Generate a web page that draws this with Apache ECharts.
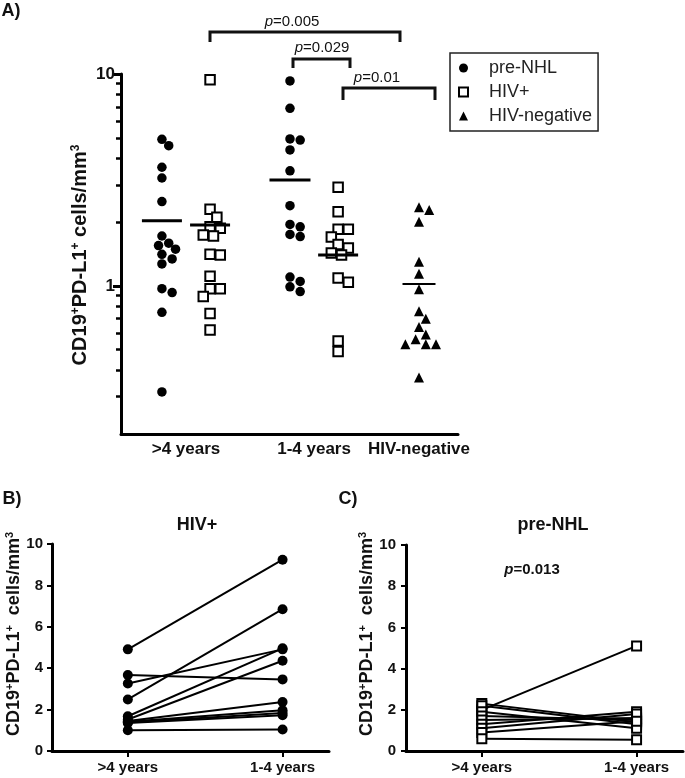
<!DOCTYPE html>
<html><head><meta charset="utf-8">
<script src="https://cdn.jsdelivr.net/npm/echarts@6/dist/echarts.min.js"></script>
<style>html,body{margin:0;padding:0;background:#fff}#c{width:685px;height:778px}</style>
</head><body><div id="c"></div>
<script>
// ---------- Panel A data ----------
const categoriesA = ['>4 years', '1-4 years', 'HIV-negative'];
const seriesNamesA = ['pre-NHL', 'HIV+', 'HIV-negative'];
const preNHL_gt4  = [4.92, 4.59, 3.63, 3.23, 2.50, 1.72, 1.59, 1.55, 1.49, 1.41, 1.34, 1.27, 0.97, 0.93, 0.75, 0.316];
const hivPos_gt4  = [9.4, 2.30, 2.11, 1.90, 1.87, 1.74, 1.72, 1.41, 1.40, 1.11, 0.97, 0.97, 0.89, 0.74, 0.62];
const preNHL_1to4 = [9.27, 6.89, 4.94, 4.88, 4.38, 3.49, 2.39, 1.95, 1.90, 1.75, 1.71, 1.10, 1.05, 0.99, 0.94];
const hivPos_1to4 = [2.92, 2.24, 1.85, 1.85, 1.70, 1.57, 1.51, 1.43, 1.40, 1.09, 1.04, 0.55, 0.49];
const hivNeg      = [2.35, 2.28, 2.01, 1.30, 1.14, 0.965, 0.76, 0.70, 0.64, 0.59, 0.56, 0.53, 0.53, 0.53, 0.37];
const meansA      = [2.03, 1.94, 3.16, 1.40, 1.02];
const yMajorTicksA = [1, 10];
const yMinorTicksA = [0.3, 0.4, 0.5, 0.6, 0.7, 0.8, 0.9, 2, 3, 4, 5, 6, 7, 8, 9];
const pLabelsA = ['0.005', '0.029', '0.01'];

// ---------- Panel B data (HIV+) ----------
const timepoints = ['>4 years', '1-4 years'];
const hivB_gt4  = [4.91, 3.67, 3.26, 2.49, 1.68, 1.52, 1.45, 1.41, 1.38, 1.35, 1.00];
const hivB_1to4 = [9.24, 3.46, 4.91, 6.85, 4.96, 4.36, 2.37, 1.97, 1.84, 1.73, 1.04];

// ---------- Panel C data (pre-NHL) ----------
const preC_gt4  = [2.00, 2.30, 2.20, 1.90, 1.70, 1.50, 1.30, 1.10, 0.90, 0.60];
const preC_1to4 = [5.10, 1.40, 1.30, 1.10, 1.50, 1.60, 1.90, 1.80, 1.45, 0.55];
const pLabelC = '0.013';

// ---------- layout ----------
const FONT = 'Arial, "Liberation Sans", sans-serif';
const groupPos = [0.85, 1.85, 3.51, 4.51, 6.19];          // x position of each column in panel A
const catPos = [1.35, 4.01, 6.19];                         // label positions in panel A
const meanWidth = [40, 40, 41, 40, 33];
const meanThick = [3, 3, 3, 3, 2];
const INK = '#111';
const MARK = '#000';

const chart = echarts.init(document.getElementById('c'));

function yName(x, y, size, sep) {
  return {
    type: 'text', x: x, y: y, rotation: Math.PI / 2,
    style: {
      text: 'CD19{s|+}PD-L1{s|+}' + sep + 'cells/mm{s|3}',
      font: 'bold ' + size + 'px ' + FONT, fill: INK,
      align: 'center', verticalAlign: 'middle',
      rich: { s: { fontSize: Math.round(size * 0.62), fontWeight: 'bold', fontFamily: FONT, fill: INK, verticalAlign: 'top', padding: [0, 0, 8, 0] } }
    }
  };
}
function bracket(x1, x2, yTop, yLeg1, yLeg2) {
  return { type: 'polyline', shape: { points: [[x1, yLeg1], [x1, yTop], [x2, yTop], [x2, yLeg2]] },
    style: { stroke: INK, lineWidth: 3, fill: null } };
}
function pText(x, y, val, bold, size) {
  return { type: 'text', x: x, y: y, style: {
    text: '{i|p}=' + val, font: (bold ? 'bold ' : '') + size + 'px ' + FONT, fill: INK,
    align: 'center', verticalAlign: 'middle',
    rich: { i: { fontStyle: 'italic', fontWeight: bold ? 'bold' : 'normal', fontSize: size, fontFamily: FONT, fill: INK } } } };
}
function plainText(x, y, t, size, bold) {
  return { type: 'text', x: x, y: y, style: { text: t, font: (bold ? 'bold ' : '') + size + 'px ' + FONT, fill: INK, align: 'center', verticalAlign: 'middle' } };
}

const axisLineStyle = { lineStyle: { color: MARK, width: 3 } };
const labA = { color: INK, fontWeight: 'bold', fontSize: 17, fontFamily: FONT };
const labBC = { color: INK, fontWeight: 'bold', fontSize: 15, fontFamily: FONT };

const pairSeries = [];
hivB_gt4.forEach((v, i) => pairSeries.push({
  type: 'line', xAxisIndex: 1, yAxisIndex: 2, data: [[1, v], [2, hivB_1to4[i]]],
  symbol: 'circle', symbolSize: 10, lineStyle: { color: MARK, width: 2 }, itemStyle: { color: MARK, opacity: 1 }, silent: true, z: 3
}));
preC_gt4.forEach((v, i) => pairSeries.push({
  type: 'line', xAxisIndex: 2, yAxisIndex: 3, data: [[1, v], [2, preC_1to4[i]]],
  symbol: 'rect', symbolSize: 9, lineStyle: { color: MARK, width: 2 },
  itemStyle: { color: '#fff', borderColor: MARK, borderWidth: 2, opacity: 1 }, silent: true, z: 3
}));

const option = {
  animation: false,
  backgroundColor: '#fff',
  textStyle: { fontFamily: FONT },
  grid: [
    { left: 121, top: 74, width: 337, height: 360 },
    { left: 52, top: 544, width: 277, height: 207 },
    { left: 406, top: 545, width: 277, height: 206 }
  ],
  xAxis: [
    { type: 'value', gridIndex: 0, min: 0, max: 7, splitLine: { show: false },
      axisLine: axisLineStyle, axisTick: { show: false },
      axisLabel: Object.assign({ customValues: catPos, margin: 7,
        formatter: v => { const i = catPos.indexOf(v); return i >= 0 ? categoriesA[i] : ''; } }, labA) },
    { type: 'value', gridIndex: 1, min: 0.51, max: 2.3, splitLine: { show: false },
      axisLine: axisLineStyle, axisTick: { customValues: [1, 2], length: 6, lineStyle: { color: MARK, width: 2 } },
      axisLabel: Object.assign({ customValues: [1, 2], margin: 9, formatter: v => timepoints[Math.round(v) - 1] }, labBC) },
    { type: 'value', gridIndex: 2, min: 0.51, max: 2.3, splitLine: { show: false },
      axisLine: axisLineStyle, axisTick: { customValues: [1, 2], length: 6, lineStyle: { color: MARK, width: 2 } },
      axisLabel: Object.assign({ customValues: [1, 2], margin: 9, formatter: v => timepoints[Math.round(v) - 1] }, labBC) }
  ],
  yAxis: [
    { type: 'log', gridIndex: 0, position: 'left', logBase: 10, min: 0.2, max: 10, splitLine: { show: false },
      axisLine: axisLineStyle,
      axisTick: { customValues: yMajorTicksA, length: 8, lineStyle: { color: MARK, width: 3 } },
      axisLabel: Object.assign({ customValues: yMajorTicksA, margin: 6, formatter: v => String(v) }, labA) },
    { type: 'log', gridIndex: 0, position: 'left', offset: 0, logBase: 10, min: 0.2, max: 10, splitLine: { show: false },
      axisLine: { show: false },
      axisTick: { customValues: yMinorTicksA, length: 5, lineStyle: { color: MARK, width: 2.5 } },
      axisLabel: { show: false } },
    { type: 'value', gridIndex: 1, min: 0, max: 10, interval: 2, splitLine: { show: false },
      axisLine: Object.assign({ show: true }, axisLineStyle), axisTick: { show: true, length: 5, lineStyle: { color: MARK, width: 2 } },
      axisLabel: Object.assign({ margin: 9 }, labBC) },
    { type: 'value', gridIndex: 2, min: 0, max: 10, interval: 2, splitLine: { show: false },
      axisLine: Object.assign({ show: true }, axisLineStyle), axisTick: { show: true, length: 5, lineStyle: { color: MARK, width: 2 } },
      axisLabel: Object.assign({ margin: 10 }, labBC) }
  ],
  legend: {
    data: seriesNamesA, orient: 'vertical', left: 450, top: 53,
    borderColor: '#222', borderWidth: 1.5, padding: [6, 6, 6, 8],
    itemWidth: 9, itemHeight: 9, itemGap: 6,
    textStyle: { fontSize: 18, color: '#222', fontFamily: FONT, lineHeight: 18, padding: [0, 0, 0, 16] }
  },
  series: [
    { name: seriesNamesA[0], type: 'scatter', xAxisIndex: 0, yAxisIndex: 0, symbol: 'circle', symbolSize: 9.5,
      itemStyle: { color: MARK, opacity: 1 }, data: [], z: 3 },
    { name: seriesNamesA[1], type: 'scatter', xAxisIndex: 0, yAxisIndex: 0, symbol: 'rect', symbolSize: 9.5,
      itemStyle: { color: '#fff', borderColor: MARK, borderWidth: 2, opacity: 1 }, data: [], z: 3 },
    { name: seriesNamesA[2], type: 'scatter', xAxisIndex: 0, yAxisIndex: 0, symbol: 'triangle', symbolSize: 10,
      itemStyle: { color: MARK, opacity: 1 }, data: [], z: 3 },
    { name: 'mean', type: 'scatter', xAxisIndex: 0, yAxisIndex: 0, symbol: 'rect', silent: true, z: 4,
      itemStyle: { color: MARK, opacity: 1 },
      data: meansA.map((m, i) => ({ value: [groupPos[i], m], symbolSize: [meanWidth[i], meanThick[i]] })) }
  ].concat(pairSeries),
  graphic: [
    plainText(11, 11, 'A)', 18, true),
    plainText(12, 499, 'B)', 18, true),
    plainText(348, 499, 'C)', 18, true),
    plainText(197, 525, 'HIV+', 18, true),
    plainText(553, 525, 'pre-NHL', 18, true),
    yName(80, 255, 20, ' '),
    yName(14, 634, 18, '  '),
    yName(367, 634, 18, '  '),
    bracket(210, 400, 32, 42, 42),
    bracket(293, 350, 59, 68, 68),
    bracket(343, 435, 88, 100, 100),
    pText(292, 22, pLabelsA[0], false, 15),
    pText(322, 48, pLabelsA[1], false, 15),
    pText(377, 78, pLabelsA[2], false, 15),
    pText(532, 570, pLabelC, true, 15)
  ]
};
chart.setOption(option);

// beeswarm placement of columns (pixel space, via the chart's own scales)
const finder = { xAxisIndex: 0, yAxisIndex: 0 };
function swarm(vals, cx, d, step) {
  const cpx = chart.convertToPixel(finder, [cx, 1])[0];
  const order = vals.map((v, i) => i).sort((a, b) => vals[b] - vals[a]);
  const placed = [];
  const out = new Array(vals.length);
  order.forEach(i => {
    const py = chart.convertToPixel(finder, [cx, vals[i]])[1];
    for (let k = 0; k < 60; k++) {
      const off = (k === 0 ? 0 : (k % 2 ? 1 : -1) * Math.ceil(k / 2)) * step;
      const px = cpx + off;
      if (placed.every(p => Math.hypot(p[0] - px, p[1] - py) >= d)) {
        placed.push([px, py]);
        out[i] = [chart.convertFromPixel(finder, [px, py])[0], vals[i]];
        break;
      }
    }
  });
  return out;
}
chart.setOption({
  series: [
    { name: seriesNamesA[0], data: swarm(preNHL_gt4, groupPos[0], 9, 3.4).concat(swarm(preNHL_1to4, groupPos[2], 9, 3.4)) },
    { name: seriesNamesA[1], data: swarm(hivPos_gt4, groupPos[1], 9.5, 3.4).concat(swarm(hivPos_1to4, groupPos[3], 9.5, 3.4)) },
    { name: seriesNamesA[2], data: swarm(hivNeg, groupPos[4], 9, 3.4) }
  ]
});
</script>
</body></html>
